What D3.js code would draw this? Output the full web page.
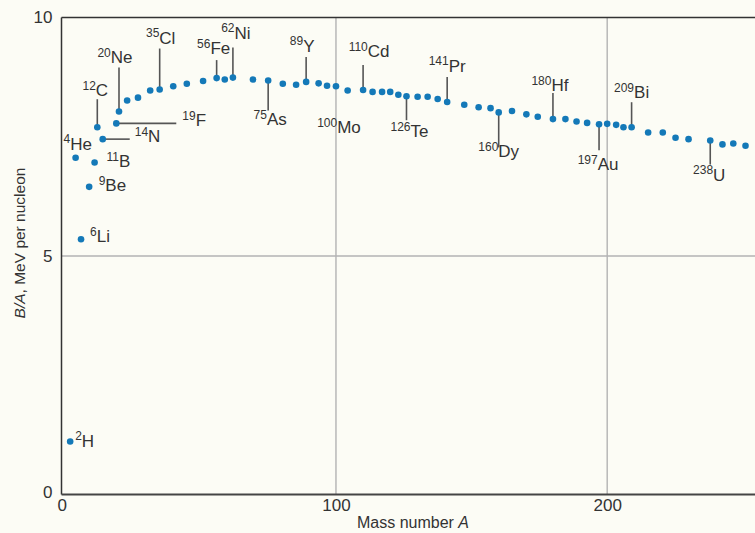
<!DOCTYPE html>
<html>
<head>
<meta charset="utf-8">
<script src="https://cdn.jsdelivr.net/npm/d3@7"></script>
<style>
  html, body { margin: 0; padding: 0; background: #fcfcf5; }
  svg { display: block; }
  text { font-family: "Liberation Sans", Arial, sans-serif; fill: #333; }
</style>
</head>
<body>
<svg id="chart" width="755" height="533"></svg>
<script>
// Binding energy per nucleon (MeV) against mass number A
const massNumbers = [
  2, 4, 6, 9, 11, 12, 14, 19, 20, 23, 27, 31.5, 35, 40, 45, 51, 56, 59, 62, 69.4,
  75, 80.4, 85.3, 89, 93.6, 96.7, 100, 104.3, 110, 113.5, 117, 120, 123, 126, 130.1, 133.8,
  137.5, 141, 147.3, 152.6, 157, 160, 164.9, 170.2, 174.4, 180, 184.6, 188.7, 192.6, 197,
  200, 203.3, 206, 209, 215.1, 220.5, 225.2, 230, 238, 242.5, 246.5, 251
];
const bindingPerNucleon = [
  1.11, 7.06, 5.35, 6.45, 6.96, 7.70, 7.45, 7.78, 8.03, 8.26, 8.32, 8.47, 8.49, 8.56, 8.61, 8.67, 8.73, 8.70, 8.74, 8.70,
  8.68, 8.61, 8.59, 8.65, 8.62, 8.57, 8.56, 8.47, 8.48, 8.44, 8.44, 8.44, 8.38, 8.35, 8.34, 8.34,
  8.29, 8.23, 8.17, 8.12, 8.10, 8.01, 8.04, 7.97, 7.92, 7.87, 7.87, 7.82, 7.79, 7.76,
  7.77, 7.75, 7.70, 7.70, 7.59, 7.59, 7.48, 7.45, 7.42, 7.34, 7.36, 7.31
];

// Named nuclides
const labelMass   = [2, 4, 6, 9, 11, 12, 14, 19, 20, 35, 56, 62, 75, 89, 100, 110, 126, 141, 160, 180, 197, 209, 238];
const labelSymbol = ["H", "He", "Li", "Be", "B", "C", "N", "F", "Ne", "Cl", "Fe", "Ni", "As", "Y", "Mo", "Cd", "Te", "Pr", "Dy", "Hf", "Au", "Bi", "U"];

const xTicks = [0, 100, 200];
const yTicks = [0, 5, 10];

// Placement of each nuclide's label around its dot:
// lead = leader direction, len = leader length (px), dx/dy = text offset, anchor = text anchor
const labelLayout = {
  2:   { lead: null,    len: 0,  dx: 5,   dy: 5,   anchor: "start" },
  4:   { lead: null,    len: 0,  dx: -12, dy: -8,  anchor: "start" },
  6:   { lead: null,    len: 0,  dx: 9,   dy: 3,   anchor: "start" },
  9:   { lead: null,    len: 0,  dx: 9.5, dy: 4.5, anchor: "start" },
  11:  { lead: null,    len: 0,  dx: 12,  dy: 4.5, anchor: "start" },
  12:  { lead: "up",    len: 28, dx: -2,  dy: -31, anchor: "middle" },
  14:  { lead: "right", len: 27, dx: 32,  dy: 3,   anchor: "start" },
  19:  { lead: "right", len: 60, dx: 66,  dy: 3,   anchor: "start" },
  20:  { lead: "up",    len: 44, dx: -4,  dy: -48, anchor: "middle" },
  35:  { lead: "up",    len: 41, dx: 1,   dy: -46, anchor: "middle" },
  56:  { lead: "up",    len: 18, dx: -3,  dy: -24, anchor: "middle" },
  62:  { lead: "up",    len: 30, dx: 3,   dy: -39, anchor: "middle" },
  75:  { lead: "down",  len: 30, dx: 2,   dy: 45,  anchor: "middle" },
  89:  { lead: "up",    len: 25, dx: -4,  dy: -30, anchor: "middle" },
  100: { lead: null,    len: 0,  dx: 3,   dy: 47,  anchor: "middle" },
  110: { lead: "up",    len: 25, dx: 6,   dy: -33, anchor: "middle" },
  126: { lead: "down",  len: 24, dx: 3,   dy: 41,  anchor: "middle" },
  141: { lead: "up",    len: 25, dx: 0,   dy: -30, anchor: "middle" },
  160: { lead: "down",  len: 35, dx: 0,   dy: 45,  anchor: "middle" },
  180: { lead: "up",    len: 26, dx: -3,  dy: -28, anchor: "middle" },
  197: { lead: "down",  len: 26, dx: -1,  dy: 46,  anchor: "middle" },
  209: { lead: "up",    len: 25, dx: 0,   dy: -29, anchor: "middle" },
  238: { lead: "down",  len: 24, dx: -1,  dy: 40,  anchor: "middle" }
};

const svg = d3.select("#chart");
const W = 755;
const plotLeft = 61.5, plotRight = W, plotTop = 17.5, plotBottom = 494.5;

const x = d3.scaleLinear().domain([-1.2, 254.5]).range([plotLeft, plotRight]);
const y = d3.scaleLinear().domain([0, 10]).range([plotBottom, plotTop]);

const points = massNumbers.map((a, i) => ({ a, b: bindingPerNucleon[i] }));

// Grid lines
const grid = svg.append("g").attr("stroke", "#b3b3b3").attr("stroke-width", 1.4);
grid.selectAll("line.gx").data(xTicks.filter(t => t > 0)).join("line")
  .attr("x1", d => x(d)).attr("x2", d => x(d)).attr("y1", plotTop).attr("y2", plotBottom);
grid.selectAll("line.gy").data(yTicks.filter(t => t > 0 && t < 10)).join("line")
  .attr("x1", plotLeft).attr("x2", plotRight).attr("y1", d => y(d)).attr("y2", d => y(d));

// Frame
svg.append("line").attr("x1", plotLeft).attr("x2", plotRight).attr("y1", plotTop).attr("y2", plotTop)
  .attr("stroke", "#333").attr("stroke-width", 1.5);
svg.append("line").attr("x1", plotLeft).attr("x2", plotLeft).attr("y1", plotTop).attr("y2", plotBottom)
  .attr("stroke", "#333").attr("stroke-width", 1.5);
svg.append("line").attr("x1", plotLeft).attr("x2", plotRight).attr("y1", plotBottom).attr("y2", plotBottom)
  .attr("stroke", "#444").attr("stroke-width", 2.2);

// Axes (labels only)
const xAxis = svg.append("g").attr("transform", `translate(0,${plotBottom})`)
  .call(d3.axisBottom(x).tickValues(xTicks).tickSize(0).tickPadding(4));
xAxis.select(".domain").remove();
xAxis.selectAll("text").attr("font-size", 17).attr("fill", "#333")
  .attr("font-family", "Liberation Sans, Arial, sans-serif")
  .attr("x", d => d === 0 ? -3 : 0);

const yAxis = svg.append("g").attr("transform", `translate(${plotLeft},0)`)
  .call(d3.axisLeft(y).tickValues(yTicks).tickSize(0).tickPadding(9));
yAxis.select(".domain").remove();
yAxis.selectAll("text").attr("font-size", 17).attr("fill", "#333")
  .attr("font-family", "Liberation Sans, Arial, sans-serif")
  .attr("dy", d => d === 0 ? "0.2em" : "0.32em");

// Axis titles
const xt = svg.append("text").attr("x", 413).attr("y", 528).attr("text-anchor", "middle")
  .attr("font-size", 16);
xt.append("tspan").text("Mass number ");
xt.append("tspan").attr("font-style", "italic").text("A");

const yt = svg.append("text").attr("transform", "translate(25,243) rotate(-90)")
  .attr("text-anchor", "middle").attr("font-size", 15.5);
yt.append("tspan").attr("font-style", "italic").text("B/A");
yt.append("tspan").text(", MeV per nucleon");

// Leader lines and labels
const labeled = labelMass.map((a, i) => {
  const p = points.find(q => q.a === a);
  return { a, sym: labelSymbol[i], b: p.b, lay: labelLayout[a] };
});

const leaders = svg.append("g").attr("stroke", "#555").attr("stroke-width", 1.6);
leaders.selectAll("line").data(labeled.filter(d => d.lay.lead)).join("line")
  .attr("x1", d => x(d.a)).attr("y1", d => y(d.b))
  .attr("x2", d => d.lay.lead === "right" ? x(d.a) + d.lay.len : x(d.a))
  .attr("y2", d => d.lay.lead === "up" ? y(d.b) - d.lay.len
                 : d.lay.lead === "down" ? y(d.b) + d.lay.len : y(d.b));

const labels = svg.append("g").selectAll("text").data(labeled).join("text")
  .attr("x", d => x(d.a) + d.lay.dx)
  .attr("y", d => y(d.b) + d.lay.dy)
  .attr("text-anchor", d => d.lay.anchor)
  .attr("font-size", 17)
  .attr("fill", "#2e2e2e");
labels.append("tspan").attr("font-size", 12).attr("dy", -6.5).text(d => d.a);
labels.append("tspan").attr("dy", 6.5).text(d => d.sym);

// Data points
svg.append("g").selectAll("circle").data(points).join("circle")
  .attr("cx", d => x(d.a)).attr("cy", d => y(d.b)).attr("r", 3.3)
  .attr("fill", "#1479b8");
</script>
</body>
</html>
